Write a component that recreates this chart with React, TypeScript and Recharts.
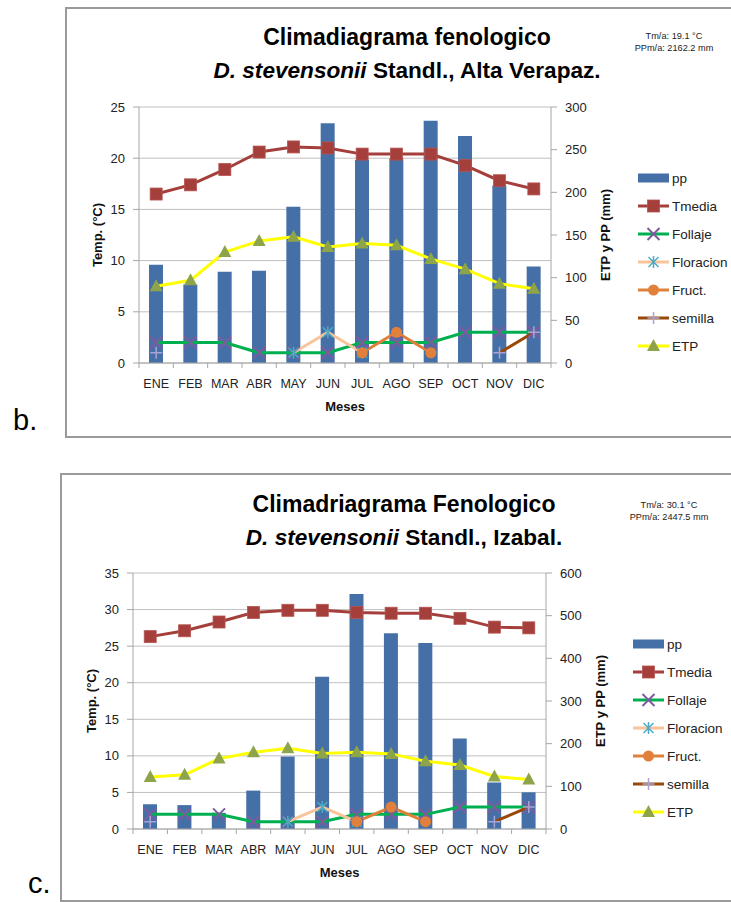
import { Bar, CartesianGrid, ComposedChart, Line, XAxis, YAxis } from "recharts";

const FONT = '"Liberation Sans", Arial, sans-serif';

const MESES = ["ENE", "FEB", "MAR", "ABR", "MAY", "JUN", "JUL", "AGO", "SEP", "OCT", "NOV", "DIC"];

// b. Alta Verapaz
const PP_AV = [115, 92, 107, 108, 183, 281, 238, 240, 284, 266, 208, 113];
const TMEDIA_AV = [16.5, 17.4, 18.9, 20.6, 21.1, 21.0, 20.4, 20.4, 20.4, 19.3, 17.8, 17.0];
const ETP_AV = [90, 97, 130, 143, 148, 136, 140, 138, 122, 110, 93, 87];
const FOLLAJE_AV = [2, 2, 2, 1, 1, 1, 2, 2, 2, 3, 3, 3];
const FLORACION_AV = [null, null, null, null, 1, 3, 1, null, null, null, null, null];
const FRUCT_AV = [null, null, null, null, null, null, 1, 3, 1, null, null, null];
const SEMILLA_AV = [1, null, null, null, null, null, null, null, null, null, 1, 3];
const LEFT_TICKS_AV = [0, 5, 10, 15, 20, 25];
const RIGHT_TICKS_AV = [0, 50, 100, 150, 200, 250, 300];

// c. Izabal
const PP_IZ = [58, 56, 38, 90, 170, 357, 551, 459, 436, 212, 109, 86];
const TMEDIA_IZ = [26.3, 27.1, 28.3, 29.6, 29.9, 29.9, 29.6, 29.5, 29.5, 28.8, 27.6, 27.5];
const ETP_IZ = [122, 127, 165, 180, 189, 177, 180, 176, 159, 150, 123, 116];
const FOLLAJE_IZ = [2, 2, 2, 1, 1, 1, 2, 2, 2, 3, 3, 3];
const FLORACION_IZ = [null, null, null, null, 1, 3, 1, null, null, null, null, null];
const FRUCT_IZ = [null, null, null, null, null, null, 1, 3, 1, null, null, null];
const SEMILLA_IZ = [1, null, null, null, null, null, null, null, null, null, 1, 3];
const LEFT_TICKS_IZ = [0, 5, 10, 15, 20, 25, 30, 35];
const RIGHT_TICKS_IZ = [0, 100, 200, 300, 400, 500, 600];

const C = {
  bar: "#4470a7",
  tmedia: "#a43f3c",
  follaje: "#00b050",
  follajeMk: "#7e5b9e",
  floracion: "#f9c49a",
  floracionMk: "#4bacc6",
  fruct: "#e0803a",
  semilla: "#984807",
  semillaMk: "#a9a4d6",
  etp: "#ffff00",
  etpMk: "#8ea44a",
  grid: "#c0c0c0",
  axis: "#a6a6a6",
  text: "#222",
};

const square = (cx: number, cy: number, k?: any) => (
  <rect key={k} x={cx - 6} y={cy - 6} width={12} height={12} fill={C.tmedia} stroke="#b65451" strokeWidth={0.8} />
);
const xMark = (cx: number, cy: number, k?: any) => (
  <path key={k} d={`M${cx - 6},${cy - 6}L${cx + 6},${cy + 6}M${cx - 6},${cy + 6}L${cx + 6},${cy - 6}`} stroke={C.follajeMk} strokeWidth={2} fill="none" />
);
const star = (cx: number, cy: number, k?: any) => (
  <path key={k} d={`M${cx - 5},${cy - 5}L${cx + 5},${cy + 5}M${cx - 5},${cy + 5}L${cx + 5},${cy - 5}M${cx},${cy - 6}L${cx},${cy + 6}`} stroke={C.floracionMk} strokeWidth={1.5} fill="none" />
);
const dotMk = (cx: number, cy: number, k?: any) => (
  <circle key={k} cx={cx} cy={cy} r={5.5} fill={C.fruct} />
);
const plus = (cx: number, cy: number, k?: any) => (
  <path key={k} d={`M${cx - 6},${cy}L${cx + 6},${cy}M${cx},${cy - 6}L${cx},${cy + 6}`} stroke={C.semillaMk} strokeWidth={1.5} fill="none" />
);
const tri = (cx: number, cy: number, k?: any) => (
  <path key={k} d={`M${cx},${cy - 7}L${cx + 6.5},${cy + 5}L${cx - 6.5},${cy + 5}Z`} fill={C.etpMk} />
);

const LINES = [
  { key: "tmedia", name: "Tmedia", color: C.tmedia, mk: square, axis: "left" },
  { key: "follaje", name: "Follaje", color: C.follaje, mk: xMark, axis: "left" },
  { key: "floracion", name: "Floracion", color: C.floracion, mk: star, axis: "left" },
  { key: "fruct", name: "Fruct.", color: C.fruct, mk: dotMk, axis: "left" },
  { key: "semilla", name: "semilla", color: C.semilla, mk: plus, axis: "left" },
  { key: "etp", name: "ETP", color: C.etp, mk: tri, axis: "right" },
];

function MonthTick(props: any) {
  const { x, payload, index, band, axisY } = props;
  const left = x - band / 2;
  return (
    <g>
      <line x1={left} y1={axisY} x2={left} y2={axisY + 5} stroke={C.axis} />
      {index === 11 ? <line x1={x + band / 2} y1={axisY} x2={x + band / 2} y2={axisY + 5} stroke={C.axis} /> : null}
      <text x={x} y={axisY + 25} textAnchor="middle" fontSize={12.5} fontFamily={FONT} fill={C.text}>
        {payload.value}
      </text>
    </g>
  );
}

function Climadiagrama(props: any) {
  const { top, height, plot, pp, tmedia, etp, follaje, floracion, fruct, semilla, leftTicks, rightTicks } = props;
  const data = MESES.map((mes, i) => ({
    mes,
    pp: pp[i],
    tmedia: tmedia[i],
    follaje: follaje[i],
    floracion: floracion[i],
    fruct: fruct[i],
    semilla: semilla[i],
    etp: etp[i],
  }));
  const band = (plot.r - plot.l) / 12;
  const tickStyle = { fill: C.text, fontSize: 13, fontFamily: FONT };
  const midY = (plot.t + plot.b) / 2;

  return (
    <div style={{ position: "absolute", left: 0, top, width: 731, height }}>
      <ComposedChart
        width={731}
        height={height}
        data={data}
        margin={{ top: plot.t, left: plot.l - 40, right: 731 - plot.r - 40, bottom: height - plot.b - 50 }}
      >
        <CartesianGrid yAxisId="left" vertical={false} stroke={C.grid} />
        <XAxis
          dataKey="mes"
          height={50}
          interval={0}
          axisLine={{ stroke: C.axis }}
          tickLine={false}
          tick={<MonthTick band={band} axisY={plot.b} />}
          label={{
            content: (p: any) => (
              <text x={p.viewBox.x + p.viewBox.width / 2} y={plot.b + 48} textAnchor="middle" fontSize={13} fontWeight="bold" fontFamily={FONT} fill="#111">
                Meses
              </text>
            ),
          }}
        />
        <YAxis
          yAxisId="left"
          width={40}
          domain={[leftTicks[0], leftTicks[leftTicks.length - 1]]}
          ticks={leftTicks}
          tick={tickStyle}
          tickSize={6}
          tickMargin={8}
          axisLine={{ stroke: C.axis }}
          tickLine={{ stroke: C.axis }}
          label={{
            content: (p: any) => (
              <text x={p.viewBox.x - 2} y={midY} transform={`rotate(-90, ${p.viewBox.x - 2}, ${midY})`} textAnchor="middle" dominantBaseline="central" fontSize={13} fontWeight="bold" fontFamily={FONT} fill="#111">
                Temp. (°C)
              </text>
            ),
          }}
        />
        <YAxis
          yAxisId="right"
          orientation="right"
          width={40}
          domain={[rightTicks[0], rightTicks[rightTicks.length - 1]]}
          ticks={rightTicks}
          tick={tickStyle}
          tickSize={6}
          tickMargin={8}
          axisLine={{ stroke: C.axis }}
          tickLine={{ stroke: C.axis }}
          label={{
            content: (p: any) => (
              <text x={p.viewBox.x + 54} y={midY} transform={`rotate(-90, ${p.viewBox.x + 54}, ${midY})`} textAnchor="middle" dominantBaseline="central" fontSize={13} fontWeight="bold" fontFamily={FONT} fill="#111">
                ETP y PP (mm)
              </text>
            ),
          }}
        />
        <Bar yAxisId="right" dataKey="pp" fill={C.bar} barSize={14} isAnimationActive={false} />
        {LINES.map((s) => (
          <Line
            key={s.key}
            yAxisId={s.axis}
            dataKey={s.key}
            type="linear"
            stroke={s.color}
            strokeWidth={3}
            connectNulls={false}
            activeDot={false}
            isAnimationActive={false}
            dot={(p: any) =>
              p.cy == null || p.value == null ? <g key={p.index} /> : s.mk(p.cx, p.cy, p.index)
            }
          />
        ))}
      </ComposedChart>
    </div>
  );
}

function Overlay(props: any) {
  const { top, height, title, place, tm, ppm, titleX, titleY, noteX, noteY, legX, legY } = props;
  return (
    <svg style={{ position: "absolute", left: 0, top, pointerEvents: "none" }} width={731} height={height}>
      <text x={titleX} y={titleY} textAnchor="middle" fontSize={23} fontWeight="bold" fontFamily={FONT} fill="#000">
        {title}
      </text>
      <text x={titleX} y={titleY + 33} textAnchor="middle" fontSize={22.6} fontWeight="bold" fontFamily={FONT} fill="#000">
        <tspan fontStyle="italic">D. stevensonii</tspan> Standl., {place}
      </text>
      <text x={noteX} y={noteY} textAnchor="middle" fontSize={9.2} fontFamily={FONT} fill="#222">
        {tm}
      </text>
      <text x={noteX} y={noteY + 12} textAnchor="middle" fontSize={9.2} fontFamily={FONT} fill="#222">
        {ppm}
      </text>
      <g>
        <rect x={legX} y={legY - 4.5} width={31} height={9} fill={C.bar} />
        <text x={legX + 34} y={legY + 5} fontSize={13.5} fontFamily={FONT} fill={C.text}>pp</text>
        {LINES.map((s, i) => {
          const y = legY + 28 * (i + 1);
          return (
            <g key={s.key}>
              <line x1={legX} y1={y} x2={legX + 31} y2={y} stroke={s.color} strokeWidth={3} />
              {s.mk(legX + 15.5, y)}
              <text x={legX + 34} y={y + 5} fontSize={13.5} fontFamily={FONT} fill={C.text}>{s.name}</text>
            </g>
          );
        })}
      </g>
    </svg>
  );
}

export default function App() {
  return (
    <div style={{ position: "absolute", left: 0, top: 0, width: 731, height: 902, background: "#fff", overflow: "hidden" }}>
      <div style={{ position: "absolute", left: 65, top: 7, width: 720, height: 427, border: "2px solid #9a9a9a" }} />
      <div style={{ position: "absolute", left: 60, top: 473, width: 720, height: 425, border: "2px solid #9a9a9a" }} />
      <div style={{ position: "absolute", left: 13, top: 403, fontSize: 29, fontFamily: FONT, lineHeight: "34px" }}>b.</div>
      <div style={{ position: "absolute", left: 28, top: 866, fontSize: 29, fontFamily: FONT, lineHeight: "34px" }}>c.</div>

      <Climadiagrama
        top={0}
        height={440}
        plot={{ l: 139, r: 551, t: 107, b: 363 }}
        pp={PP_AV}
        tmedia={TMEDIA_AV}
        etp={ETP_AV}
        follaje={FOLLAJE_AV}
        floracion={FLORACION_AV}
        fruct={FRUCT_AV}
        semilla={SEMILLA_AV}
        leftTicks={LEFT_TICKS_AV}
        rightTicks={RIGHT_TICKS_AV}
      />
      <Overlay
        top={0}
        height={440}
        title="Climadiagrama fenologico"
        place="Alta Verapaz."
        tm="Tm/a: 19.1 °C"
        ppm="PPm/a: 2162.2 mm"
        titleX={407}
        titleY={45}
        noteX={674}
        noteY={39}
        legX={638}
        legY={178}
      />

      <Climadiagrama
        top={465}
        height={437}
        plot={{ l: 133, r: 546, t: 108, b: 364 }}
        pp={PP_IZ}
        tmedia={TMEDIA_IZ}
        etp={ETP_IZ}
        follaje={FOLLAJE_IZ}
        floracion={FLORACION_IZ}
        fruct={FRUCT_IZ}
        semilla={SEMILLA_IZ}
        leftTicks={LEFT_TICKS_IZ}
        rightTicks={RIGHT_TICKS_IZ}
      />
      <Overlay
        top={465}
        height={437}
        title="Climadriagrama Fenologico"
        place="Izabal."
        tm="Tm/a: 30.1 °C"
        ppm="PPm/a: 2447.5 mm"
        titleX={404}
        titleY={47}
        noteX={669}
        noteY={43}
        legX={633}
        legY={179}
      />
    </div>
  );
}
